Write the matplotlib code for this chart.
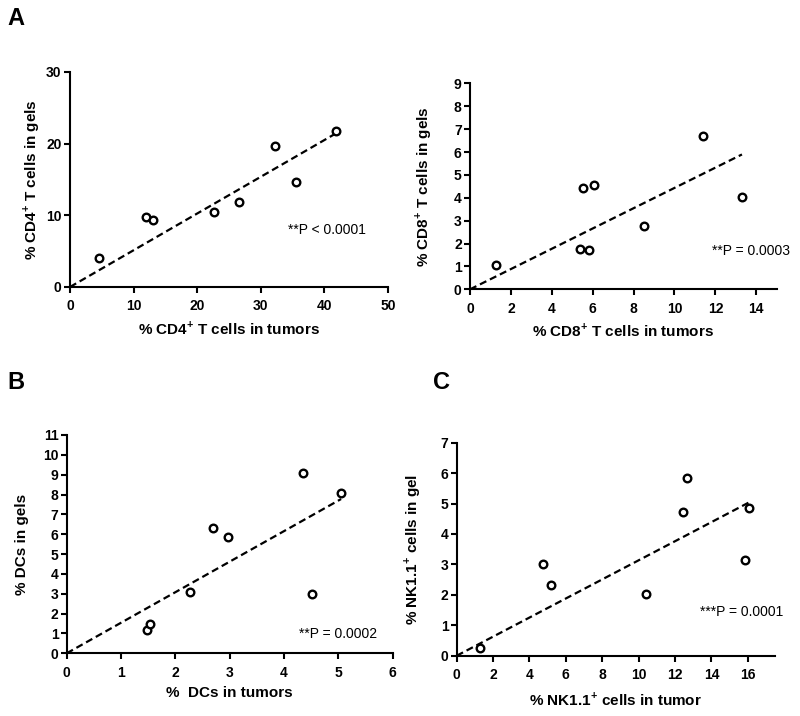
import numpy as np
import matplotlib
matplotlib.use("Agg")
import matplotlib.pyplot as plt

plt.rcParams['font.family'] = ['Liberation Sans', 'DejaVu Sans']
plt.rcParams['mathtext.fontset'] = 'custom'
plt.rcParams['mathtext.rm'] = 'Liberation Sans'
plt.rcParams['mathtext.bf'] = 'Liberation Sans:bold'

# ---- data ----
cd4_tumor = [4.6, 12.0, 13.0, 22.6, 26.5, 32.3, 35.5, 41.8]
cd4_gel = [4.1, 9.8, 9.3, 10.5, 11.8, 19.7, 14.6, 21.7]

cd8_tumor = [1.25, 5.4, 5.8, 5.55, 6.05, 8.5, 11.4, 13.3]
cd8_gel = [1.05, 1.75, 1.7, 4.43, 4.55, 2.75, 6.7, 4.05]

dc_tumor = [1.48, 1.53, 2.26, 2.69, 2.96, 4.35, 4.52, 5.05]
dc_gel = [1.15, 1.48, 3.07, 6.3, 5.87, 9.1, 3.0, 8.1]

nk_tumor = [1.3, 4.75, 5.2, 10.4, 12.45, 12.65, 15.85, 16.05]
nk_gel = [0.26, 3.02, 2.34, 2.02, 4.72, 5.84, 3.15, 4.85]

p_texts = ['**P < 0.0001', '**P = 0.0003', '**P = 0.0002', '***P = 0.0001']

W, H = 800, 716
fig = plt.figure(figsize=(W / 100, H / 100), dpi=100)

panels = [
    dict(rect=[0.0875, 0.5992, 0.3975, 0.3003], x=cd4_tumor, y=cd4_gel,
         xlim=50, xt=np.arange(0, 51, 10), ylim=30, yt=np.arange(0, 31, 10),
         xl=r'% CD4$^{\mathbf{+}}$ T cells in tumors', yl=r'% CD4$^{\mathbf{+}}$ T cells in gels',
         p=p_texts[0], pxy=(34.3, 7.95), xoff=41, yoff=38),
    dict(rect=[0.5875, 0.5959, 0.3834, 0.2877], x=cd8_tumor, y=cd8_gel,
         xlim=15, xt=np.arange(0, 15, 2), ylim=9, yt=np.arange(0, 10, 1),
         xl=r'% CD8$^{\mathbf{+}}$ T cells in tumors', yl=r'% CD8$^{\mathbf{+}}$ T cells in gels',
         p=p_texts[1], pxy=(11.83, 1.69), xoff=41, yoff=47),
    dict(rect=[0.0834, 0.0876, 0.4075, 0.3049], x=dc_tumor, y=dc_gel,
         xlim=6, xt=np.arange(0, 7, 1), ylim=11, yt=np.arange(0, 12, 1),
         xl='%  DCs in tumors', yl='% DCs in gels',
         p=p_texts[2], pxy=(4.28, 0.97), xoff=40, yoff=45),
    dict(rect=[0.5709, 0.0842, 0.3979, 0.2975], x=nk_tumor, y=nk_gel,
         xlim=17.5, xt=np.arange(0, 17, 2), ylim=7, yt=np.arange(0, 8, 1),
         xl=r'% NK1.1$^{\mathbf{+}}$ cells in tumor', yl=r'% NK1.1$^{\mathbf{+}}$ cells in gel',
         p=p_texts[3], pxy=(13.4, 1.43), xoff=44, yoff=44),
]

for pn in panels:
    ax = fig.add_axes(pn['rect'])
    x = np.array(pn['x'])
    y = np.array(pn['y'])
    # regression through the origin
    slope = np.sum(x * y) / np.sum(x * x)
    xx = np.array([0, x.max()])
    ax.plot(xx, slope * xx, color='black', lw=1.6, linestyle=(0, (3.2, 1.8)), zorder=2)
    ax.scatter(x, y, s=30, facecolors='white', edgecolors='black', linewidths=1.7,
               zorder=3, clip_on=False)
    ax.set_xlim(0, pn['xlim'])
    ax.set_ylim(0, pn['ylim'])
    ax.set_xticks(pn['xt'])
    ax.set_yticks(pn['yt'])
    for s in ['top', 'right']:
        ax.spines[s].set_visible(False)
    for s in ['left', 'bottom']:
        ax.spines[s].set_linewidth(1.5)
    ax.tick_params(direction='out', length=4, width=1.5, labelsize=10)
    ax.tick_params(axis='x', pad=5)
    ax.tick_params(axis='y', pad=2)
    for lab in ax.get_xticklabels() + ax.get_yticklabels():
        lab.set_fontweight('bold')
    ax.set_xlabel(pn['xl'], fontsize=11, fontweight='bold', va='center')
    ax.set_ylabel(pn['yl'], fontsize=11, fontweight='bold', va='center')
    aw = pn['rect'][2] * W
    ah = pn['rect'][3] * H
    ax.xaxis.set_label_coords(0.5, -pn['xoff'] / ah)
    ax.yaxis.set_label_coords(-pn['yoff'] / aw, 0.5)
    ax.text(pn['pxy'][0], pn['pxy'][1], pn['p'], fontsize=10, va='center', ha='left')

fig.text(0.009, 0.974, 'A', fontsize=17, fontweight='bold', va='center')
fig.text(0.009, 0.466, 'B', fontsize=17, fontweight='bold', va='center')
fig.text(0.541, 0.466, 'C', fontsize=17, fontweight='bold', va='center')

fig.savefig('out.png', dpi=100)
